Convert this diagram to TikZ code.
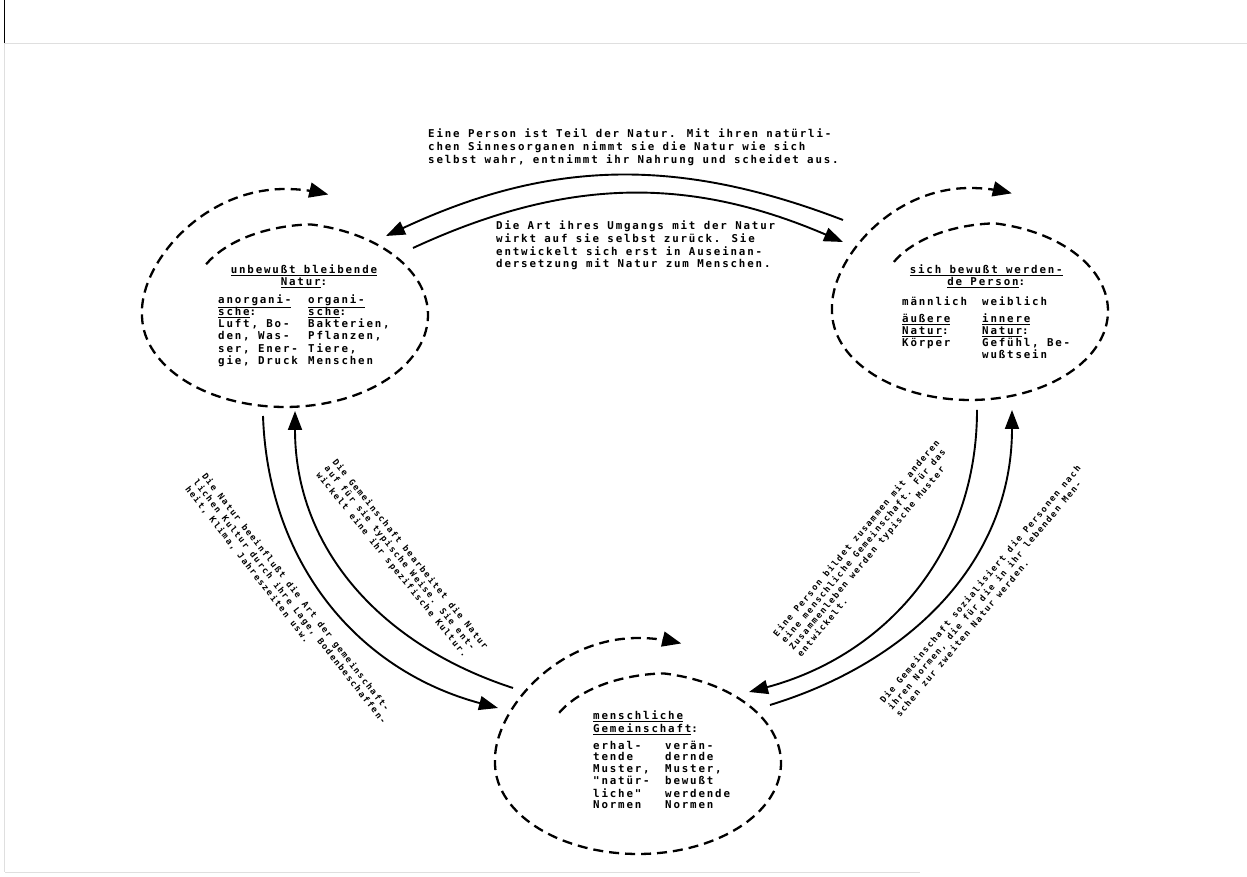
\documentclass[tikz,border=0pt]{standalone}
\usepackage{fontspec}
\usetikzlibrary{arrows.meta,shapes.geometric}
\newfontfamily\drucker[LetterSpace=17]{DejaVu Sans Mono}
\tikzstyle{ring}=[ellipse, draw=none, inner sep=0pt]
\tikzstyle{spur}=[line width=2.3pt, dash pattern=on 10pt off 6pt, -{Triangle[length=19pt,width=15pt]}]
\tikzstyle{pfeil}=[line width=1.9pt, -{Triangle[length=19pt,width=14pt]}]
\tikzstyle{block}=[inner sep=0pt, align=left, font=\drucker\bfseries\fontsize{10.8}{12.6}\selectfont]
\tikzstyle{schraeg}=[inner sep=0pt, align=left, font=\drucker\bfseries\fontsize{8.7}{10.5}\selectfont]
\tikzstyle{inhalt}=[inner sep=0pt, font=\drucker\bfseries\fontsize{10.8}{11.8}\selectfont]
\newcommand{\spirale}[3]{\draw[spur, shift={(#1.center)}] plot[smooth, domain=135:-287, samples=100]
  ({(1-0.22*min(1,max(0,((\x)-80)/55)))*(#2+5*sin(min(90,max(0,-180-(\x)))))*cos(\x)},
   {(1-0.22*min(1,max(0,((\x)-80)/55)))*(#3+34*sin(min(90,max(0,-180-(\x)))))*sin(\x)});}

\begin{document}
\begin{tikzpicture}[x=1pt, y=1pt]
\useasboundingbox (0,0) rectangle (1247,877);
\draw[line width=1.5pt] (4.5,877) -- (4.5,834);
\draw[gray!25, line width=0.8pt] (4.5,834) -- (4.5,5) (5,834) -- (1247,834) (5,5) -- (920,5);

\node[ring, minimum width=286pt, minimum height=184pt] (natur) at (285,562) {};
\node[ring, minimum width=276pt, minimum height=178pt] (person) at (970,566) {};
\node[ring, minimum width=287pt, minimum height=183pt] (gemeinschaft) at (638,114) {};
\spirale{natur}{143}{92}
\spirale{person}{138}{89}
\spirale{gemeinschaft}{143}{91}

\node[inhalt, anchor=north west] (naturtext) at (218,612) {\begin{tabular}{@{}p{90pt}@{}l@{}}
\multicolumn{2}{@{}c@{}}{\underline{unbewußt bleibende}}\\
\multicolumn{2}{@{}c@{}}{\underline{Natur}:}\\[5pt]
\underline{anorgani-} & \underline{organi-}\\
\underline{sche}: & \underline{sche}:\\
Luft, Bo- & Bakterien,\\
den, Was- & Pflanzen,\\
ser, Ener- & Tiere,\\
gie, Druck & Menschen
\end{tabular}};
\node[inhalt, anchor=north west] (persontext) at (902,612) {\begin{tabular}{@{}p{80pt}@{}l@{}}
\multicolumn{2}{@{}c@{}}{\underline{sich bewußt werden-}}\\
\multicolumn{2}{@{}c@{}}{\underline{de Person}:}\\[7pt]
männlich & weiblich\\[5pt]
\underline{äußere} & \underline{innere}\\
\underline{Natur}: & \underline{Natur}:\\
Körper & Gefühl, Be-\\
 & wußtsein
\end{tabular}};
\node[inhalt, anchor=north west] (gemeinschafttext) at (593,166) {\begin{tabular}{@{}p{72pt}@{}l@{}}
\multicolumn{2}{@{}l@{}}{\underline{menschliche}}\\
\multicolumn{2}{@{}l@{}}{\underline{Gemeinschaft}:}\\[5pt]
erhal- & verän-\\
tende & dernde\\
Muster, & Muster,\\
"natür- & bewußt\\
liche" & werdende\\
Normen & Normen
\end{tabular}};

\node[block, anchor=north west] (obentext) at (428,748) {Eine Person ist Teil der Natur. Mit ihren natürli-\\chen Sinnesorganen nimmt sie die Natur wie sich\\selbst wahr, entnimmt ihr Nahrung und scheidet aus.};
\node[block, anchor=north west] (mittetext) at (496,656) {Die Art ihres Umgangs mit der Natur\\wirkt auf sie selbst zurück. Sie\\entwickelt sich erst in Auseinan-\\dersetzung mit Natur zum Menschen.};
\node[schraeg, rotate=-51] (linksinnen) at (402,316) {Die Gemeinschaft bearbeitet die Natur\\auf für sie typische Weise. Sie ent-\\wickelt eine ihr spezifische Kultur.};
\node[schraeg, rotate=-52] (linksaussen) at (290,275) {Die Natur beeinflußt die Art der gemeinschaft-\\lichen Kultur durch ihre Lage, Bodenbeschaffen-\\heit, Klima, Jahreszeiten usw.};
\node[schraeg, rotate=50] (rechtsinnen) at (868,329) {Eine Person bildet zusammen mit anderen\\eine menschliche Gemeinschaft. Für das\\Zusammenleben werden typische Muster\\entwickelt.};
\node[schraeg, rotate=50] (rechtsaussen) at (988,286) {Die Gemeinschaft sozialisiert die Personen nach\\ihren Normen, die für die in ihr lebenden Men-\\schen zur zweiten Natur werden.};

\draw[pfeil] ([shift={(-127,91)}]person.center) to[bend right=23] ([shift={(101,79)}]natur.center);
\draw[pfeil] ([shift={(128,67)}]natur.center) to[bend left=24] ([shift={(-127,69)}]person.center);
\draw[pfeil] ([shift={(-22,-101)}]natur.center) to[out=-88, in=165] ([shift={(-140,55)}]gemeinschaft.center);
\draw[pfeil] ([shift={(-125,75)}]gemeinschaft.center) to[out=162, in=-90] ([shift={(10,-96)}]natur.center);
\draw[pfeil] ([shift={(7,-99)}]person.center) to[out=-90, in=15] ([shift={(111,71)}]gemeinschaft.center);
\draw[pfeil] ([shift={(132,58)}]gemeinschaft.center) to[out=17, in=-90] ([shift={(42,-99)}]person.center);
\end{tikzpicture}
\end{document}
